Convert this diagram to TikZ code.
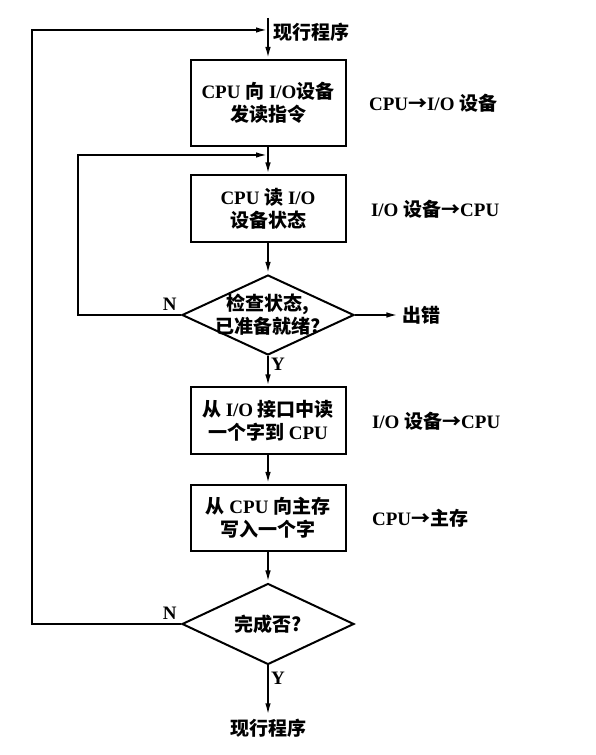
\documentclass[tikz,border=0pt]{standalone}
\usepackage{fontspec}
\setmainfont{Liberation Serif}
\newfontfamily\cjkfont{Noto Sans CJK SC}
\newcommand{\zh}[1]{{\cjkfont #1}}
\usetikzlibrary{shapes.geometric, arrows.meta, positioning}
\tikzstyle{process} = [rectangle, 
minimum width=155pt, 
minimum height=67pt, 
text centered, 
align=center, 
draw=black, 
line width=2pt]
\tikzstyle{decision} = [diamond, 
minimum width=172pt, 
minimum height=80pt, 
inner sep=0pt, 
draw=black, 
line width=2pt]
\tikzstyle{note} = [align=center]
\tikzstyle{arrow} = [line width=2pt, -{Latex[length=12pt,width=5.5pt]}]

\begin{document}
\begin{tikzpicture}[x=1pt, y=1pt, node distance=106pt, font=\fontsize{19}{23}\selectfont\bfseries]
\useasboundingbox (0,0) rectangle (596,755);

\node (box1) [process, minimum height=86pt] at (268,652) {CPU \zh{向} I/O\zh{设备}\\\zh{发读指令}};
\node (box2) [process, below of=box1] {CPU \zh{读} I/O\\\zh{设备状态}};
\node (chk) [decision, below of=box2, label={[align=center]center:{\zh{检查状态,}\\\zh{已准备就绪?}}}] {};
\node (box3) [process, below of=chk] {\zh{从} I/O \zh{接口中读}\\\zh{一个字到} CPU};
\node (box4) [process, below of=box3, yshift=9pt, minimum height=66pt] {\zh{从} CPU \zh{向主存}\\\zh{写入一个字}};
\node (fin) [decision, below of=box4, minimum height=81pt, label={center:\zh{完成否?}}] {};
\node (end) [note, below of=fin, yshift=2pt] {\zh{现行程序}};

\coordinate (top) at (268,737);
\node (start) [note, anchor=west] at (270,723) {\zh{现行程序}};
\node (err) [note, right of=chk, node distance=153pt] {\zh{出错}};

\node (l1) [note, right=19pt of box1] {CPU\zh{→}I/O \zh{设备}};
\node (l2) [note, right=21pt of box2] {I/O \zh{设备→}CPU};
\node (l3) [note, right=22pt of box3] {I/O \zh{设备→}CPU};
\node (l4) [note, right=22pt of box4] {CPU\zh{→主存}};

\coordinate (pt1) at (32,725);
\coordinate (pt2) at (78,600);

\draw[arrow] (top) -- (box1);
\draw[arrow] (box1) -- (box2);
\draw[arrow] (box2) -- (chk);
\draw[arrow] (chk.south) node[below right, inner sep=1pt, xshift=1pt] {Y} -- (box3);
\draw[arrow] (box3) -- (box4);
\draw[arrow] (box4) -- (fin);
\draw[arrow] (fin.south) node[below right, inner sep=1pt, xshift=1pt, yshift=-5pt] {Y} -- (end);
\draw[arrow] (chk) -- (err);

\draw[arrow] (chk.west) node[above left] {N} -| (pt2) -- (pt2 -| box1);
\draw[arrow] (fin.west) node[above left] {N} -| (pt1) -- (pt1 -| box1);

\end{tikzpicture}
\end{document}
